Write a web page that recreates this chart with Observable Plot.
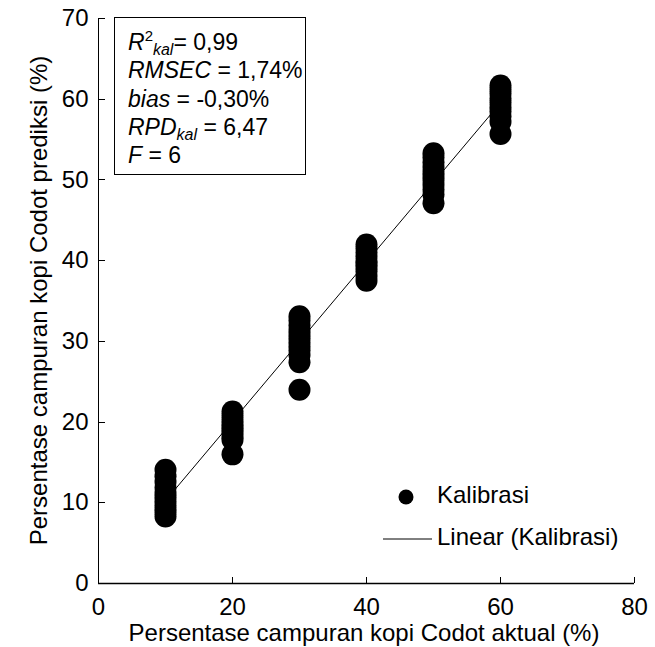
<!DOCTYPE html>
<html>
<head>
<meta charset="utf-8">
<script src="https://cdn.jsdelivr.net/npm/d3@7"></script>
<script src="https://cdn.jsdelivr.net/npm/@observablehq/plot@0.6"></script>
<style>
  html, body { margin: 0; padding: 0; background: #fff; }
  svg { display: block; }
</style>
</head>
<body>
<div id="chart"></div>
<script>
// Data
const actual10 = [14.1, 13.3, 12.6, 11.9, 11.2, 10.7, 10.2, 9.7, 9.2, 8.8, 8.3];
const actual20 = [21.3, 20.8, 20.3, 19.8, 19.4, 19.0, 18.6, 18.2, 17.8, 16.0];
const actual30 = [33.1, 32.6, 32.0, 31.4, 30.9, 30.4, 29.9, 29.4, 28.9, 28.3, 27.4, 24.0];
const actual40 = [42.0, 41.5, 41.0, 40.5, 40.0, 39.6, 39.2, 38.7, 38.1, 37.5];
const actual50 = [53.3, 52.8, 52.2, 51.6, 51.0, 50.5, 50.0, 49.4, 48.8, 48.2, 47.1];
const actual60 = [61.7, 61.2, 60.7, 60.1, 59.6, 59.0, 58.5, 57.9, 57.2, 55.7];
const actualLevels = [10, 20, 30, 40, 50, 60];
const predicted = [actual10, actual20, actual30, actual40, actual50, actual60];

const xTicks = [0, 20, 40, 60, 80];
const yTicks = [0, 10, 20, 30, 40, 50, 60, 70];

const xLabel = "Persentase campuran kopi Codot aktual (%)";
const yLabel = "Persentase campuran kopi Codot prediksi (%)";
const seriesName = "Kalibrasi";
const trendName = "Linear (Kalibrasi)";

const data = actualLevels.flatMap((a, i) => predicted[i].map(p => ({actual: a, predicted: p})));

const W = 655, H = 647;
const mL = 98, mR = 21, mT = 18, mB = 64;
const font = "Liberation Sans, Arial, sans-serif";
const fs = 24;

const chart = Plot.plot({
  width: W,
  height: H,
  marginLeft: mL,
  marginRight: mR,
  marginTop: mT,
  marginBottom: mB,
  style: {fontFamily: font, fontSize: fs + "px", color: "#000", background: "#fff", overflow: "visible"},
  x: {domain: [0, 80]},
  y: {domain: [0, 70]},
  marks: [
    Plot.axisX({ticks: xTicks, tickSize: 0, tickPadding: 14, label: null, fontSize: fs}),
    Plot.axisY({ticks: yTicks, tickSize: 0, tickPadding: 10, label: null, fontSize: fs}),
    Plot.ruleX([0], {strokeWidth: 1}),
    Plot.ruleY([0], {strokeWidth: 1.5}),
    Plot.dot(data, {x: "actual", y: "predicted", r: 11, fill: "#000", stroke: "none"}),
    Plot.linearRegressionY(data, {x: "actual", y: "predicted", ci: 0, stroke: "#000", strokeWidth: 1})
  ]
});

document.getElementById("chart").appendChild(chart);

const svg = d3.select(chart);
const sx = chart.scale("x"), sy = chart.scale("y");

// Inward tick marks
const y0 = sy.apply(0), x0 = sx.apply(0);
xTicks.slice(1).forEach(v => {
  const px = Math.round(sx.apply(v)) + 0.5;
  svg.append("line").attr("x1", px).attr("x2", px).attr("y1", y0).attr("y2", y0 - 6)
    .attr("stroke", "#000").attr("stroke-width", 1);
});
yTicks.slice(1).forEach(v => {
  const py = Math.round(sy.apply(v)) + 0.5;
  svg.append("line").attr("x1", x0).attr("x2", x0 + 7).attr("y1", py).attr("y2", py)
    .attr("stroke", "#000").attr("stroke-width", 1);
});

// Axis titles
svg.append("text")
  .attr("x", 364).attr("y", 635)
  .attr("text-anchor", "middle").attr("dominant-baseline", "middle")
  .style("font", `${fs}px ${font}`).attr("fill", "#000")
  .text(xLabel);
svg.append("text")
  .attr("transform", `translate(41,${(mT + H - mB) / 2}) rotate(-90)`)
  .attr("text-anchor", "middle").attr("dominant-baseline", "middle")
  .style("font", `${fs}px ${font}`).attr("fill", "#000")
  .text(yLabel);

// Statistics box
const bfs = 23;
const stats = svg.append("g").style("font", `${bfs}px ${font}`).attr("fill", "#000").attr("text-anchor", "start");
stats.append("rect").attr("x", 114.5).attr("y", 17.5).attr("width", 191).attr("height", 157)
  .attr("fill", "#fff").attr("stroke", "#000").attr("stroke-width", 1);
const lines = [
  [{t: "R", i: true}, {t: "2", sup: true}, {t: "kal", sub: true, i: true, dy: 14}, {t: "= 0,99", dy: -5}],
  [{t: "RMSEC", i: true}, {t: " = 1,74%"}],
  [{t: "bias", i: true}, {t: " = -0,30%"}],
  [{t: "RPD", i: true}, {t: "kal", sub: true, i: true, dy: 5}, {t: " = 6,47", dy: -5}],
  [{t: "F", i: true}, {t: " = 6"}]
];
lines.forEach((parts, k) => {
  const txt = stats.append("text").attr("x", 128).attr("y", 50 + k * 28.3);
  parts.forEach(p => {
    const ts = txt.append("tspan").text(p.t);
    if (p.i) ts.attr("font-style", "italic");
    if (p.sup) ts.attr("font-size", 15).attr("dy", -9);
    if (p.sub) ts.attr("font-size", 16);
    if (p.dy) ts.attr("dy", p.dy);
  });
});

// Legend
const lg = svg.append("g").style("font", `${fs}px ${font}`).attr("fill", "#000").attr("text-anchor", "start");
lg.append("circle").attr("cx", 406).attr("cy", 497).attr("r", 7.5).attr("fill", "#000");
lg.append("text").attr("x", 437).attr("y", 497).attr("dominant-baseline", "middle").text(seriesName);
lg.append("line").attr("x1", 383).attr("x2", 432).attr("y1", 539).attr("y2", 539)
  .attr("stroke", "#000").attr("stroke-width", 1);
lg.append("text").attr("x", 437).attr("y", 539).attr("dominant-baseline", "middle").text(trendName);
</script>
</body>
</html>
